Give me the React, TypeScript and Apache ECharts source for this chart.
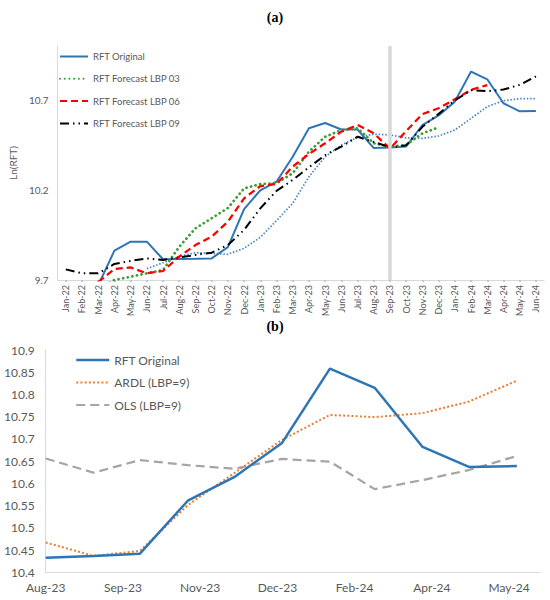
import React, { useEffect, useRef } from "react";
import * as echarts from "echarts";

// ---------- Chart (a) data ----------
const topMonths = [
  "Jan-22", "Feb-22", "Mar-22", "Apr-22", "May-22", "Jun-22", "Jul-22", "Aug-22", "Sep-22", "Oct-22",
  "Nov-22", "Dec-22", "Jan-23", "Feb-23", "Mar-23", "Apr-23", "May-23", "Jun-23", "Jul-23", "Aug-23",
  "Sep-23", "Oct-23", "Nov-23", "Dec-23", "Jan-24", "Feb-24", "Mar-24", "Apr-24", "May-24", "Jun-24",
];
const topOriginal = [
  9.64, 9.65, 9.67, 9.863, 9.913, 9.913, 9.815, 9.817, 9.818, 9.82,
  9.883, 10.094, 10.198, 10.246, 10.385, 10.543, 10.572, 10.536, 10.536, 10.433,
  10.4365, 10.442, 10.561, 10.614, 10.691, 10.858, 10.815, 10.682, 10.637, 10.639,
];
const lbp03 = [
  9.6, 9.62, 9.65, 9.7, 9.718, 9.737, 9.756, 9.885, 9.987, 10.043,
  10.1, 10.209, 10.233, 10.238, 10.293, 10.413, 10.496, 10.533, 10.543, 10.46,
  10.44, 10.45, 10.515, 10.548, null, null, null, null, null, null,
];
const lbp06 = [
  9.66, 9.67, 9.689, 9.761, 9.77, 9.737, 9.75, 9.83, 9.894, 9.941,
  10.024, 10.154, 10.222, 10.233, 10.33, 10.4, 10.46, 10.524, 10.561, 10.515,
  10.43, 10.528, 10.622, 10.654, 10.704, 10.756, 10.783, null, null, null,
];
const lbp09 = [
  9.759, 9.737, 9.737, 9.789, 9.806, 9.82, 9.811, 9.826, 9.839, 9.852,
  9.894, 9.978, 10.098, 10.195, 10.256, 10.326, 10.394, 10.441, 10.496, 10.467,
  10.437, 10.448, 10.551, 10.623, 10.698, 10.754, 10.749, 10.758, 10.784, 10.831,
];
const lbp12 = [
  null, null, null, null, null, 9.763, 9.796, 9.83, 9.852, 9.848,
  9.843, 9.876, 9.937, 10.03, 10.126, 10.274, 10.385, 10.45, 10.493, 10.51,
  10.506, 10.49, 10.487, 10.5, 10.533, 10.598, 10.663, 10.696, 10.707, 10.707,
];
const splitMonth = "Sep-23";

// ---------- Chart (b) data ----------
const bottomDates = [
  "2023-08-01", "2023-09-01", "2023-10-01", "2023-11-01", "2023-12-01", "2024-01-01",
  "2024-02-01", "2024-03-01", "2024-04-01", "2024-05-01", "2024-06-01",
];
const bottomOriginal = [10.433, 10.4365, 10.442, 10.561, 10.614, 10.691, 10.858, 10.815, 10.682, 10.637, 10.639];
const ardl = [10.467, 10.437, 10.448, 10.551, 10.623, 10.698, 10.754, 10.749, 10.758, 10.784, 10.831];
const ols = [10.656, 10.624, 10.6525, 10.641, 10.633, 10.655, 10.649, 10.587, 10.6075, 10.63, 10.6615];

const monthNames = ["Jan", "Feb", "Mar", "Apr", "May", "Jun", "Jul", "Aug", "Sep", "Oct", "Nov", "Dec"];
const DAY = 86400000;
const baseTime = Date.parse(bottomDates[0] + "T00:00:00Z");
const dayOffset = (d: string) => Math.round((Date.parse(d + "T00:00:00Z") - baseTime) / DAY);
const offsetLabel = (off: number) => {
  const dt = new Date(baseTime + off * DAY);
  return monthNames[dt.getUTCMonth()] + "-" + String(dt.getUTCFullYear()).slice(2);
};
const pairs = (vals: number[]) => bottomDates.map((d, i) => [dayOffset(d), vals[i]]);

const FONT = "Lato, 'Open Sans', sans-serif";
const GRAY_TXT = "#595959";
const AXIS_GRAY = "#D9D9D9";

export default function App() {
  const ref = useRef<HTMLDivElement>(null);
  useEffect(() => {
    const chart = echarts.init(ref.current!, null, { renderer: "svg" });
    const option: any = {
      animation: false,
      backgroundColor: "#ffffff",
      textStyle: { fontFamily: FONT },
      title: [
        {
          text: "(a)", left: "center", top: 5,
          textStyle: { fontFamily: "'Liberation Serif', serif", fontWeight: "bold", fontSize: 14, color: "#000" },
        },
        {
          text: "(b)", left: "center", top: 314,
          textStyle: { fontFamily: "'Liberation Serif', serif", fontWeight: "bold", fontSize: 14, color: "#000" },
        },
      ],
      legend: [
        {
          orient: "vertical", left: 59, top: 51.5, padding: 0, itemWidth: 28, itemHeight: 10, itemGap: 12.3,
          data: ["RFT Original", "RFT Forecast LBP 03", "RFT Forecast LBP 06", "RFT Forecast LBP 09"],
          textStyle: { fontSize: 9.5, color: GRAY_TXT, fontFamily: FONT },
          itemStyle: { opacity: 0 },
          selectedMode: false,
        },
        {
          orient: "vertical", left: 75, top: 354, padding: 0, itemWidth: 33, itemHeight: 12, itemGap: 10.5,
          data: [
            { name: "RFT Original", lineStyle: { width: 2.5 } },
            "ARDL (LBP=9)",
            "OLS (LBP=9)",
          ],
          textStyle: { fontSize: 12, color: GRAY_TXT, fontFamily: FONT },
          itemStyle: { opacity: 0 },
          selectedMode: false,
        },
      ],
      grid: [
        { left: 46, right: 6, top: 46, height: 234 },
        { left: 45.7, right: 10, top: 350, height: 222.3 },
      ],
      xAxis: [
        {
          type: "category", gridIndex: 0, data: topMonths, boundaryGap: true,
          axisLine: { show: true, lineStyle: { color: AXIS_GRAY } },
          axisTick: { show: true, alignWithLabel: true, length: 2, lineStyle: { color: "#9DC3E6", width: 1.5 } },
          axisLabel: { rotate: 90, fontSize: 9, color: GRAY_TXT, margin: 5, interval: 0, fontFamily: FONT },
          splitLine: { show: false },
        },
        {
          type: "value", gridIndex: 1, min: 0, max: 320, interval: 50,
          axisLine: { show: true, lineStyle: { color: AXIS_GRAY } },
          axisTick: { show: false },
          axisLabel: {
            fontSize: 12, color: GRAY_TXT, margin: 9, showMaxLabel: false, fontFamily: FONT,
            formatter: (v: number) => offsetLabel(v),
          },
          splitLine: { show: false },
        },
      ],
      yAxis: [
        {
          type: "value", gridIndex: 0, min: 9.7, max: 11.0, interval: 0.5,
          name: "Ln(RFT)", nameLocation: "middle", nameRotate: 90, nameGap: 31,
          nameTextStyle: { fontSize: 10, color: GRAY_TXT, fontFamily: FONT },
          axisLine: { show: true, lineStyle: { color: AXIS_GRAY } },
          axisTick: { show: false },
          axisLabel: { fontSize: 10, color: GRAY_TXT, margin: 9, showMaxLabel: false, fontFamily: FONT },
          splitLine: { show: false },
        },
        {
          type: "value", gridIndex: 1, min: 10.4, max: 10.9, interval: 0.05,
          axisLine: { show: true, lineStyle: { color: AXIS_GRAY } },
          axisTick: { show: false },
          axisLabel: {
            fontSize: 12, color: GRAY_TXT, margin: 11, fontFamily: FONT,
            formatter: (v: number) => String(Math.round(v * 100) / 100),
          },
          splitLine: { show: false },
        },
      ],
      series: [
        {
          name: "RFT Forecast LBP 12", type: "line", xAxisIndex: 0, yAxisIndex: 0, data: lbp12,
          symbol: "none", z: 2, connectNulls: false,
          lineStyle: { color: "#4A86C8", width: 1.75, type: [1.5, 1.8] },
          itemStyle: { color: "#4A86C8" },
          markLine: {
            silent: true, symbol: "none", label: { show: false },
            lineStyle: { color: AXIS_GRAY, width: 3.5, type: "solid" },
            data: [{ xAxis: splitMonth }],
          },
        },
        {
          name: "RFT Original", type: "line", xAxisIndex: 0, yAxisIndex: 0, data: topOriginal,
          symbol: "none", z: 3,
          lineStyle: { color: "#2E75B6", width: 2 },
          itemStyle: { color: "#2E75B6" },
        },
        {
          name: "RFT Forecast LBP 03", type: "line", xAxisIndex: 0, yAxisIndex: 0, data: lbp03,
          symbol: "none", z: 3,
          lineStyle: { color: "#3E9E36", width: 2.75, type: [0.1, 4.6], cap: "round" },
          itemStyle: { color: "#3E9E36" },
        },
        {
          name: "RFT Forecast LBP 06", type: "line", xAxisIndex: 0, yAxisIndex: 0, data: lbp06,
          symbol: "none", z: 3,
          lineStyle: { color: "#FF0000", width: 2.25, type: [7, 4] },
          itemStyle: { color: "#FF0000" },
        },
        {
          name: "RFT Forecast LBP 09", type: "line", xAxisIndex: 0, yAxisIndex: 0, data: lbp09,
          symbol: "none", z: 3,
          lineStyle: { color: "#000000", width: 2, type: [9, 4, 1.5, 4, 1.5, 4] },
          itemStyle: { color: "#000000" },
        },
        {
          name: "RFT Original", type: "line", xAxisIndex: 1, yAxisIndex: 1, data: pairs(bottomOriginal),
          symbol: "none", z: 4,
          lineStyle: { color: "#2E75B6", width: 2.5 },
          itemStyle: { color: "#2E75B6" },
        },
        {
          name: "ARDL (LBP=9)", type: "line", xAxisIndex: 1, yAxisIndex: 1, data: pairs(ardl),
          symbol: "none", z: 3,
          lineStyle: { color: "#ED7D31", width: 2, type: [2, 2.2] },
          itemStyle: { color: "#ED7D31" },
        },
        {
          name: "OLS (LBP=9)", type: "line", xAxisIndex: 1, yAxisIndex: 1, data: pairs(ols),
          symbol: "none", z: 2,
          lineStyle: { color: "#A5A5A5", width: 2.25, type: [9, 5] },
          itemStyle: { color: "#A5A5A5" },
        },
      ],
    };
    chart.setOption(option);
    return () => chart.dispose();
  }, []);
  return (
    <div
      ref={ref}
      style={{ position: "absolute", left: 0, top: 0, width: 550, height: 600, background: "#fff" }}
    />
  );
}
